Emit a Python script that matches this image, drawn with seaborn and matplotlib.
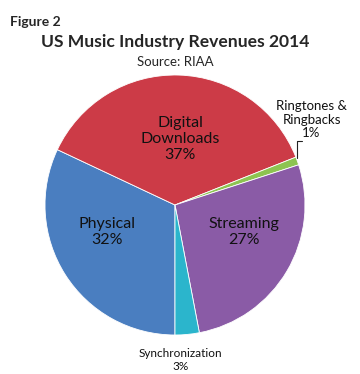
import numpy as np
import seaborn as sns
import matplotlib.pyplot as plt

# data (percent of 2014 revenues)
categories = ['Physical', 'Digital\nDownloads', 'Ringtones &\nRingbacks', 'Streaming', 'Synchronization']
shares = [32, 37, 1, 27, 3]
colors = ['#4A7EC0', '#CC3B47', '#8DC451', '#8A5BA6', '#2BB5CC']

sns.set_style('white')
plt.rcParams['font.family'] = ['Lato', 'DejaVu Sans']

fig = plt.figure(figsize=(3.6, 3.74), dpi=100)
ax = fig.add_axes([45 / 360, 39 / 374, 260 / 360, 260 / 374])

wedges, _ = ax.pie(shares, colors=colors, startangle=-90, counterclock=False,
                   wedgeprops=dict(linewidth=0.6, edgecolor='white'))
ax.set_xlim(-1, 1)
ax.set_ylim(-1, 1)
ax.set_aspect('equal')

# label positions (data units, radius = 1)
big = dict(ha='center', va='center', fontsize=11.5, color='#111111', linespacing=1.2)
ax.text(0.04, 0.51, f'{categories[1]}\n{shares[1]}%', **big)
ax.text(-0.52, -0.21, f'{categories[0]}\n{shares[0]}%', **big)
ax.text(0.53, -0.21, f'{categories[3]}\n{shares[3]}%', **big)
ax.text(1.05, 0.655, f'{categories[2]}\n{shares[2]}%', ha='center', va='center',
        fontsize=9.5, color='#111111', linespacing=1.15)
ax.text(0.04, -1.19, f'{categories[4]}\n{shares[4]}%', ha='center', va='center',
        fontsize=8.5, color='#111111', linespacing=1.2)

# leader line for the thin ringtones slice
w = wedges[2]
mid = np.deg2rad((w.theta1 + w.theta2) / 2)
x0, y0 = np.cos(mid) * 1.0, np.sin(mid) * 1.0
ax.plot([x0, x0, x0 + 0.035], [y0 + 0.02, 0.49, 0.49], color='#222222', lw=0.8, clip_on=False)

fig.text(10 / 360, 1 - 22 / 374, 'Figure 2', fontsize=10, fontweight='bold', va='center')
fig.text(175 / 360, 1 - 42 / 374, 'US Music Industry Revenues 2014', fontsize=12.6,
         fontweight='bold', ha='center', va='center')
fig.text(175 / 360, 1 - 62 / 374, 'Source: RIAA', fontsize=9.5, ha='center', va='center')

fig.savefig('out.png', dpi=100)
